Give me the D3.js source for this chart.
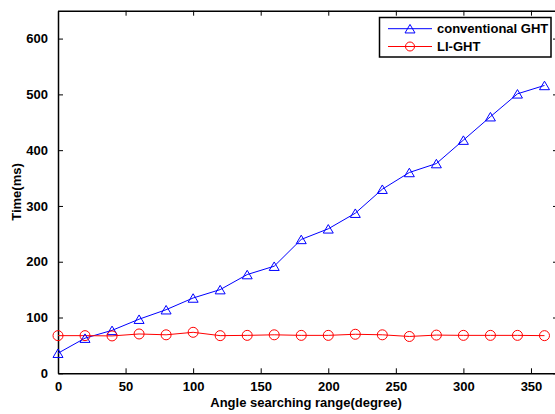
<!DOCTYPE html>
<html>
<head>
<meta charset="utf-8">
<script src="https://cdn.jsdelivr.net/npm/d3@7"></script>
<style>
  html, body { margin: 0; padding: 0; background: #fff; }
  svg { display: block; }
  text { font-family: "Liberation Sans", Arial, Helvetica, sans-serif; font-weight: bold; fill: #000; }
</style>
</head>
<body>
<svg id="chart" width="555" height="414"></svg>
<script>
const angles = [0, 20, 40, 60, 80, 100, 120, 140, 160, 180, 200, 220, 240, 260, 280, 300, 320, 340, 360];
const conventionalGHT = [36, 63, 77, 97, 114, 135, 150, 177, 192, 240, 259, 287, 330, 360, 376, 418, 460, 501, 516];
const liGHT = [67.5, 67.5, 67, 70.5, 69, 73.5, 67.5, 68, 69, 68, 68, 70, 69, 66, 68.5, 68, 68, 68, 67.5];
const xTicks = [0, 50, 100, 150, 200, 250, 300, 350];
const yTicks = [0, 100, 200, 300, 400, 500, 600];
const seriesNames = ["conventional GHT", "LI-GHT"];
const seriesColors = ["#0000ff", "#ff0000"];

(function () {
const svg = d3.select("#chart");
const mLeft = 58, mRight = 558, mTop = 10.7, mBottom = 373.3;
const x = d3.scaleLinear().domain([0, 370]).range([mLeft, mRight]);
const y = d3.scaleLinear().domain([0, 650]).range([mBottom, mTop]);

const fontSize = 13;
const tickLen = 5;

const g = svg.append("g");
const xAxisB = d3.axisBottom(x).tickValues(xTicks).tickSizeInner(-tickLen).tickSizeOuter(0).tickPadding(8);
const gxb = g.append("g").attr("transform", `translate(0,${mBottom})`).call(xAxisB);
const xAxisT = d3.axisTop(x).tickValues(xTicks).tickSizeInner(-tickLen).tickSizeOuter(0).tickFormat("");
const gxt = g.append("g").attr("transform", `translate(0,${mTop})`).call(xAxisT);
const yAxisL = d3.axisLeft(y).tickValues(yTicks).tickSizeInner(-tickLen).tickSizeOuter(0).tickPadding(10);
const gyl = g.append("g").attr("transform", `translate(${mLeft},0)`).call(yAxisL);
const yAxisR = d3.axisRight(y).tickValues(yTicks).tickSizeInner(-tickLen).tickSizeOuter(0).tickFormat("");
const gyr = g.append("g").attr("transform", `translate(${mRight},0)`).call(yAxisR);

[gxb, gxt, gyl, gyr].forEach(a => {
  a.select(".domain").attr("stroke", "#000").attr("stroke-width", 1.5);
  a.selectAll(".tick line").attr("stroke", "#000").attr("stroke-width", 1);
  a.selectAll(".tick text").style("font-size", fontSize + "px").style("font-family", '"Liberation Sans", Arial, sans-serif').style("font-weight", "bold").attr("fill", "#000");
});
gxb.selectAll(".tick text").attr("dy", "0.71em");

const line = d3.line().x((d, i) => x(angles[i])).y(d => y(d));
const series = [conventionalGHT, liGHT];
series.forEach((vals, si) => {
  svg.append("path").datum(vals).attr("d", line)
    .attr("fill", "none").attr("stroke", seriesColors[si]).attr("stroke-width", 1);
});

function triPath(cx, cy, s) {
  const h = s * 0.85;
  return `M${cx},${cy - h / 2}L${cx + s / 2},${cy + h / 2}L${cx - s / 2},${cy + h / 2}Z`;
}

svg.append("g").selectAll("path").data(conventionalGHT).join("path")
  .attr("d", (d, i) => triPath(x(angles[i]), y(d), 10))
  .attr("fill", "none").attr("stroke", seriesColors[0]).attr("stroke-width", 1);
svg.append("g").selectAll("circle").data(liGHT).join("circle")
  .attr("cx", (d, i) => x(angles[i])).attr("cy", d => y(d)).attr("r", 5)
  .attr("fill", "none").attr("stroke", seriesColors[1]).attr("stroke-width", 1);

svg.append("text").attr("x", 306).attr("y", 407).attr("text-anchor", "middle")
  .style("font-size", fontSize + "px").text("Angle searching range(degree)");
svg.append("text").attr("transform", `translate(21,${(mTop + mBottom) / 2}) rotate(-90)`)
  .attr("text-anchor", "middle").style("font-size", fontSize + "px").text("Time(ms)");

const lg = svg.append("g");
lg.append("rect").attr("x", 379.5).attr("y", 17.5).attr("width", 171.5).attr("height", 39.5)
  .attr("fill", "#fff").attr("stroke", "#000").attr("stroke-width", 1.5);
const rowsY = [28.7, 46.5];
seriesNames.forEach((name, i) => {
  lg.append("line").attr("x1", 388).attr("x2", 432).attr("y1", rowsY[i]).attr("y2", rowsY[i])
    .attr("stroke", seriesColors[i]).attr("stroke-width", 1);
  if (i === 0) {
    lg.append("path").attr("d", triPath(410, rowsY[i], 10)).attr("fill", "none").attr("stroke", seriesColors[i]);
  } else {
    lg.append("circle").attr("cx", 410).attr("cy", rowsY[i]).attr("r", 4.5).attr("fill", "none").attr("stroke", seriesColors[i]);
  }
  lg.append("text").attr("x", 437).attr("y", rowsY[i]).attr("dy", "0.36em")
    .style("font-size", fontSize + "px").text(name);
});
})();
</script>
</body>
</html>
